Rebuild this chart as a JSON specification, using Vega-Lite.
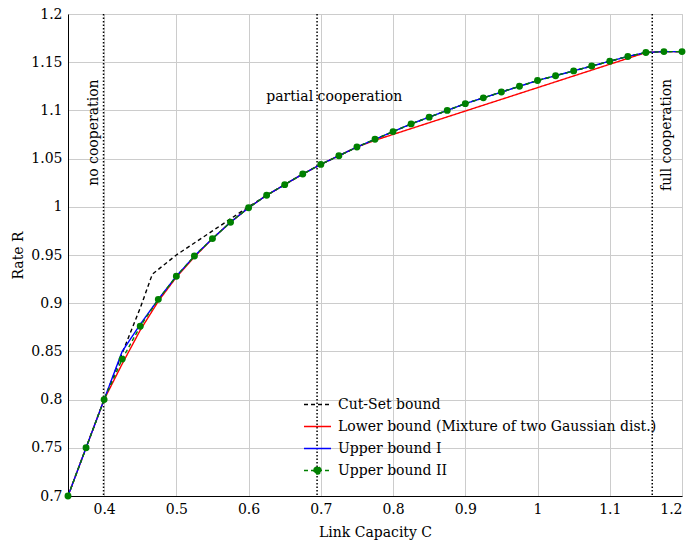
{
  "$schema": "https://vega.github.io/schema/vega-lite/v6.json",
  "width": 614,
  "height": 482,
  "autosize": {"type": "none"},
  "padding": {"left": 68, "top": 14, "right": 12, "bottom": 44},
  "config": {
    "view": {"stroke": "#cccccc"},
    "font": "DejaVu Serif",
    "axis": {
      "domainColor": "black",
      "domainWidth": 1,
      "gridColor": "#cccccc",
      "gridWidth": 1,
      "ticks": false,
      "labelFont": "DejaVu Serif",
      "labelFontSize": 14,
      "labelColor": "black",
      "labelPadding": 6,
      "titleFont": "DejaVu Serif",
      "titleFontSize": 14,
      "titleFontWeight": "normal",
      "titleColor": "black"
    },
    "legend": {
      "labelFont": "DejaVu Serif",
      "labelFontSize": 14,
      "labelColor": "black",
      "labelLimit": 0
    }
  },
  "datasets": {
    "curves": [
      {"series": "Cut-Set bound", "C": 0.35, "R": 0.7},
      {"series": "Cut-Set bound", "C": 0.375, "R": 0.75},
      {"series": "Cut-Set bound", "C": 0.4, "R": 0.8},
      {"series": "Cut-Set bound", "C": 0.425, "R": 0.848},
      {"series": "Cut-Set bound", "C": 0.45, "R": 0.895},
      {"series": "Cut-Set bound", "C": 0.4667, "R": 0.93},
      {"series": "Cut-Set bound", "C": 0.5, "R": 0.95},
      {"series": "Cut-Set bound", "C": 0.55, "R": 0.975},
      {"series": "Cut-Set bound", "C": 0.6, "R": 1.0},
      {"series": "Cut-Set bound", "C": 0.625, "R": 1.012},
      {"series": "Cut-Set bound", "C": 0.65, "R": 1.023},
      {"series": "Cut-Set bound", "C": 0.675, "R": 1.034},
      {"series": "Cut-Set bound", "C": 0.7, "R": 1.044},
      {"series": "Cut-Set bound", "C": 0.725, "R": 1.053},
      {"series": "Cut-Set bound", "C": 0.75, "R": 1.062},
      {"series": "Cut-Set bound", "C": 0.775, "R": 1.07},
      {"series": "Cut-Set bound", "C": 0.8, "R": 1.078},
      {"series": "Cut-Set bound", "C": 0.825, "R": 1.086},
      {"series": "Cut-Set bound", "C": 0.85, "R": 1.093},
      {"series": "Cut-Set bound", "C": 0.875, "R": 1.1},
      {"series": "Cut-Set bound", "C": 0.9, "R": 1.107},
      {"series": "Cut-Set bound", "C": 0.925, "R": 1.113},
      {"series": "Cut-Set bound", "C": 0.95, "R": 1.119},
      {"series": "Cut-Set bound", "C": 0.975, "R": 1.125},
      {"series": "Cut-Set bound", "C": 1.0, "R": 1.131},
      {"series": "Cut-Set bound", "C": 1.025, "R": 1.136},
      {"series": "Cut-Set bound", "C": 1.05, "R": 1.141},
      {"series": "Cut-Set bound", "C": 1.075, "R": 1.146},
      {"series": "Cut-Set bound", "C": 1.1, "R": 1.151},
      {"series": "Cut-Set bound", "C": 1.125, "R": 1.156},
      {"series": "Cut-Set bound", "C": 1.15, "R": 1.16},
      {"series": "Cut-Set bound", "C": 1.175, "R": 1.161},
      {"series": "Cut-Set bound", "C": 1.2, "R": 1.161},

      {"series": "Lower bound (Mixture of two Gaussian dist.)", "C": 0.35, "R": 0.7},
      {"series": "Lower bound (Mixture of two Gaussian dist.)", "C": 0.375, "R": 0.75},
      {"series": "Lower bound (Mixture of two Gaussian dist.)", "C": 0.4, "R": 0.8},
      {"series": "Lower bound (Mixture of two Gaussian dist.)", "C": 0.425, "R": 0.837},
      {"series": "Lower bound (Mixture of two Gaussian dist.)", "C": 0.45, "R": 0.872},
      {"series": "Lower bound (Mixture of two Gaussian dist.)", "C": 0.475, "R": 0.902},
      {"series": "Lower bound (Mixture of two Gaussian dist.)", "C": 0.5, "R": 0.927},
      {"series": "Lower bound (Mixture of two Gaussian dist.)", "C": 0.525, "R": 0.948},
      {"series": "Lower bound (Mixture of two Gaussian dist.)", "C": 0.55, "R": 0.967},
      {"series": "Lower bound (Mixture of two Gaussian dist.)", "C": 0.575, "R": 0.984},
      {"series": "Lower bound (Mixture of two Gaussian dist.)", "C": 0.6, "R": 0.999},
      {"series": "Lower bound (Mixture of two Gaussian dist.)", "C": 0.625, "R": 1.012},
      {"series": "Lower bound (Mixture of two Gaussian dist.)", "C": 0.65, "R": 1.023},
      {"series": "Lower bound (Mixture of two Gaussian dist.)", "C": 0.675, "R": 1.034},
      {"series": "Lower bound (Mixture of two Gaussian dist.)", "C": 0.7, "R": 1.044},
      {"series": "Lower bound (Mixture of two Gaussian dist.)", "C": 0.725, "R": 1.053},
      {"series": "Lower bound (Mixture of two Gaussian dist.)", "C": 0.75, "R": 1.062},
      {"series": "Lower bound (Mixture of two Gaussian dist.)", "C": 0.775, "R": 1.069},
      {"series": "Lower bound (Mixture of two Gaussian dist.)", "C": 1.15, "R": 1.16},
      {"series": "Lower bound (Mixture of two Gaussian dist.)", "C": 1.175, "R": 1.161},
      {"series": "Lower bound (Mixture of two Gaussian dist.)", "C": 1.2, "R": 1.161},

      {"series": "Upper bound I", "C": 0.35, "R": 0.7},
      {"series": "Upper bound I", "C": 0.375, "R": 0.75},
      {"series": "Upper bound I", "C": 0.4, "R": 0.8},
      {"series": "Upper bound I", "C": 0.425, "R": 0.85},
      {"series": "Upper bound I", "C": 0.45, "R": 0.878},
      {"series": "Upper bound I", "C": 0.475, "R": 0.904},
      {"series": "Upper bound I", "C": 0.5, "R": 0.928},
      {"series": "Upper bound I", "C": 0.525, "R": 0.949},
      {"series": "Upper bound I", "C": 0.55, "R": 0.967},
      {"series": "Upper bound I", "C": 0.575, "R": 0.984},
      {"series": "Upper bound I", "C": 0.6, "R": 0.999},
      {"series": "Upper bound I", "C": 0.625, "R": 1.012},
      {"series": "Upper bound I", "C": 0.65, "R": 1.023},
      {"series": "Upper bound I", "C": 0.675, "R": 1.034},
      {"series": "Upper bound I", "C": 0.7, "R": 1.044},
      {"series": "Upper bound I", "C": 0.725, "R": 1.053},
      {"series": "Upper bound I", "C": 0.75, "R": 1.062},
      {"series": "Upper bound I", "C": 0.775, "R": 1.07},
      {"series": "Upper bound I", "C": 0.8, "R": 1.078},
      {"series": "Upper bound I", "C": 0.825, "R": 1.086},
      {"series": "Upper bound I", "C": 0.85, "R": 1.093},
      {"series": "Upper bound I", "C": 0.875, "R": 1.1},
      {"series": "Upper bound I", "C": 0.9, "R": 1.107},
      {"series": "Upper bound I", "C": 0.925, "R": 1.113},
      {"series": "Upper bound I", "C": 0.95, "R": 1.119},
      {"series": "Upper bound I", "C": 0.975, "R": 1.125},
      {"series": "Upper bound I", "C": 1.0, "R": 1.131},
      {"series": "Upper bound I", "C": 1.025, "R": 1.136},
      {"series": "Upper bound I", "C": 1.05, "R": 1.141},
      {"series": "Upper bound I", "C": 1.075, "R": 1.146},
      {"series": "Upper bound I", "C": 1.1, "R": 1.151},
      {"series": "Upper bound I", "C": 1.125, "R": 1.156},
      {"series": "Upper bound I", "C": 1.15, "R": 1.16},
      {"series": "Upper bound I", "C": 1.175, "R": 1.161},
      {"series": "Upper bound I", "C": 1.2, "R": 1.161},

      {"series": "Upper bound II", "C": 0.35, "R": 0.7},
      {"series": "Upper bound II", "C": 0.375, "R": 0.75},
      {"series": "Upper bound II", "C": 0.4, "R": 0.8},
      {"series": "Upper bound II", "C": 0.425, "R": 0.842},
      {"series": "Upper bound II", "C": 0.45, "R": 0.876},
      {"series": "Upper bound II", "C": 0.475, "R": 0.904},
      {"series": "Upper bound II", "C": 0.5, "R": 0.928},
      {"series": "Upper bound II", "C": 0.525, "R": 0.949},
      {"series": "Upper bound II", "C": 0.55, "R": 0.967},
      {"series": "Upper bound II", "C": 0.575, "R": 0.984},
      {"series": "Upper bound II", "C": 0.6, "R": 0.999},
      {"series": "Upper bound II", "C": 0.625, "R": 1.012},
      {"series": "Upper bound II", "C": 0.65, "R": 1.023},
      {"series": "Upper bound II", "C": 0.675, "R": 1.034},
      {"series": "Upper bound II", "C": 0.7, "R": 1.044},
      {"series": "Upper bound II", "C": 0.725, "R": 1.053},
      {"series": "Upper bound II", "C": 0.75, "R": 1.062},
      {"series": "Upper bound II", "C": 0.775, "R": 1.07},
      {"series": "Upper bound II", "C": 0.8, "R": 1.078},
      {"series": "Upper bound II", "C": 0.825, "R": 1.086},
      {"series": "Upper bound II", "C": 0.85, "R": 1.093},
      {"series": "Upper bound II", "C": 0.875, "R": 1.1},
      {"series": "Upper bound II", "C": 0.9, "R": 1.107},
      {"series": "Upper bound II", "C": 0.925, "R": 1.113},
      {"series": "Upper bound II", "C": 0.95, "R": 1.119},
      {"series": "Upper bound II", "C": 0.975, "R": 1.125},
      {"series": "Upper bound II", "C": 1.0, "R": 1.131},
      {"series": "Upper bound II", "C": 1.025, "R": 1.136},
      {"series": "Upper bound II", "C": 1.05, "R": 1.141},
      {"series": "Upper bound II", "C": 1.075, "R": 1.146},
      {"series": "Upper bound II", "C": 1.1, "R": 1.151},
      {"series": "Upper bound II", "C": 1.125, "R": 1.156},
      {"series": "Upper bound II", "C": 1.15, "R": 1.16},
      {"series": "Upper bound II", "C": 1.175, "R": 1.161},
      {"series": "Upper bound II", "C": 1.2, "R": 1.161}
    ],
    "regimes": [
      {"C": 0.3992},
      {"C": 0.6948},
      {"C": 1.1588}
    ],
    "vlabels": [
      {"label": "no cooperation", "C": 0.3855, "R": 1.077},
      {"label": "full cooperation", "C": 1.1795, "R": 1.0745}
    ],
    "hlabels": [
      {"label": "partial cooperation", "C": 0.7185, "R": 1.114}
    ]
  },
  "layer": [
    {
      "data": {"name": "regimes"},
      "mark": {"type": "rule", "color": "black", "strokeWidth": 1.5, "strokeDash": [1.5, 2]},
      "encoding": {
        "x": {"field": "C", "type": "quantitative"}
      }
    },
    {
      "data": {"name": "curves"},
      "mark": {"type": "line", "strokeWidth": 1.4, "clip": true},
      "encoding": {
        "x": {
          "field": "C", "type": "quantitative",
          "scale": {"domain": [0.35, 1.2], "nice": false, "zero": false},
          "axis": {"values": [0.4, 0.5, 0.6, 0.7, 0.8, 0.9, 1.0, 1.1, 1.2], "format": "~g", "title": "Link Capacity C", "titlePadding": 9}
        },
        "y": {
          "field": "R", "type": "quantitative",
          "scale": {"domain": [0.7, 1.2], "nice": false, "zero": false},
          "axis": {"values": [0.7, 0.75, 0.8, 0.85, 0.9, 0.95, 1.0, 1.05, 1.1, 1.15, 1.2], "format": "~g", "title": "Rate R", "titlePadding": 5}
        },
        "color": {
          "field": "series", "type": "nominal",
          "scale": {
            "domain": ["Cut-Set bound", "Lower bound (Mixture of two Gaussian dist.)", "Upper bound I", "Upper bound II"],
            "range": ["black", "#ff0000", "#0000ff", "#008000"]
          },
          "legend": {
            "title": null,
            "orient": "none",
            "legendX": 236,
            "legendY": 376,
            "symbolType": "stroke",
            "symbolSize": 324,
            "symbolStrokeWidth": 1.4,
            "labelOffset": 5,
            "rowPadding": 0,
            "padding": 0,
            "encode": {
              "symbols": {
                "update": {
                  "size": {"value": 729},
                  "xc": {"value": 13.5},
                  "shape": {"signal": "datum.value === 'Upper bound II' ? 'M-1,0H1M-0.27,0A0.27,0.27 0 1 1 0.27,0A0.27,0.27 0 1 1 -0.27,0' : 'stroke'"},
                  "fill": {"signal": "datum.value === 'Upper bound II' ? '#008000' : 'transparent'"}
                }
              }
            }
          }
        },
        "strokeDash": {
          "field": "series", "type": "nominal",
          "scale": {
            "domain": ["Cut-Set bound", "Lower bound (Mixture of two Gaussian dist.)", "Upper bound I", "Upper bound II"],
            "range": [[4, 3], [1, 0], [1, 0], [4, 3]]
          },
          "legend": null
        }
      }
    },
    {
      "data": {"name": "curves"},
      "transform": [{"filter": "datum.series === 'Upper bound II'"}],
      "mark": {"type": "circle", "color": "#008000", "opacity": 1, "size": 48},
      "encoding": {
        "x": {"field": "C", "type": "quantitative"},
        "y": {"field": "R", "type": "quantitative"}
      }
    },
    {
      "data": {"name": "vlabels"},
      "mark": {"type": "text", "angle": 270, "align": "center", "baseline": "middle", "font": "DejaVu Serif", "fontSize": 14, "color": "black"},
      "encoding": {
        "x": {"field": "C", "type": "quantitative"},
        "y": {"field": "R", "type": "quantitative"},
        "text": {"field": "label"}
      }
    },
    {
      "data": {"name": "hlabels"},
      "mark": {"type": "text", "align": "center", "baseline": "middle", "font": "DejaVu Serif", "fontSize": 14, "color": "black"},
      "encoding": {
        "x": {"field": "C", "type": "quantitative"},
        "y": {"field": "R", "type": "quantitative"},
        "text": {"field": "label"}
      }
    }
  ]
}
